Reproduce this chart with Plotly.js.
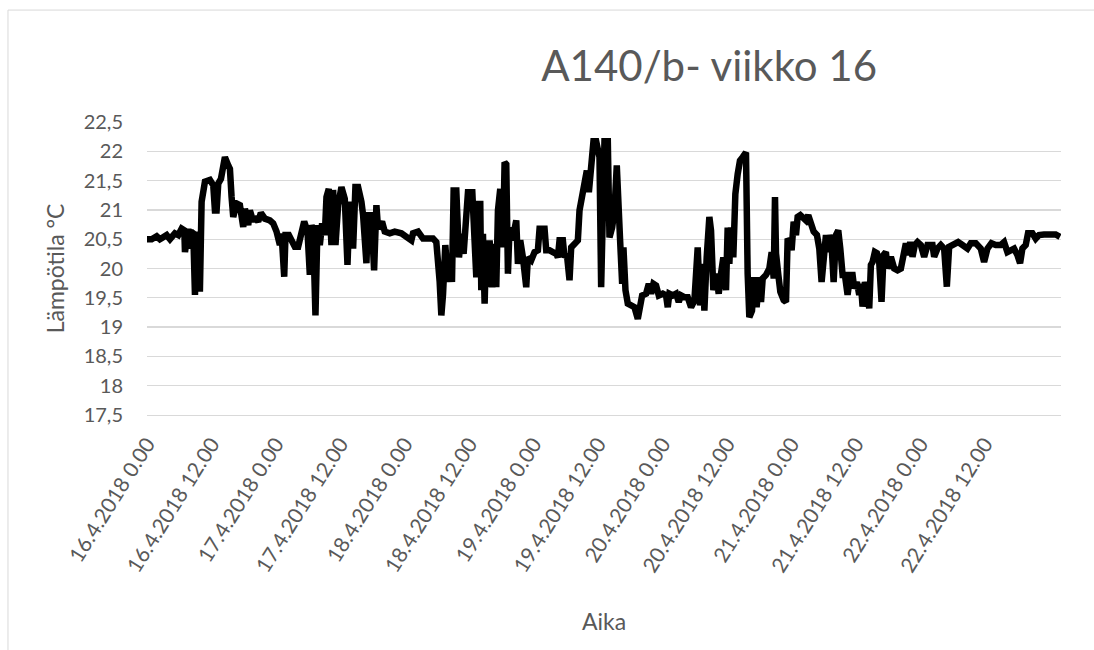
<!DOCTYPE html>
<html>
<head>
<meta charset="utf-8">
<script src="https://cdn.plot.ly/plotly-3.0.1.min.js"></script>
<style>
  html, body { margin: 0; padding: 0; background: #ffffff; }
  #chart { width: 1094px; height: 650px; }
</style>
</head>
<body>
<div id="chart"></div>
<script>
// Hours elapsed since 16.4.2018 0.00
const hours = [
  0, 0.87, 1.8, 2.4, 3.66, 4.28, 5.2, 5.83, 6.45, 6.95, 7.07, 7.38, 7.69, 7.8, 8.19, 8.62, 8.93, 9.24, 9.55, 9.86,
  10.17, 10.79, 11.72, 12.34, 12.65, 12.96, 13.27, 13.77, 14.2, 14.51, 15.13, 15.44, 15.75, 16.06, 16.68, 17.3, 17.92, 18.23, 18.85, 19.16,
  19.78, 20.09, 20.71, 21.2, 21.95, 22.88, 23.5, 24.12, 24.74, 25.05, 25.55, 25.79, 26.41, 26.91, 27.53, 28.15, 28.65, 29.27, 29.89, 30.32,
  30.63, 30.94, 31.37, 31.75, 32.18, 32.61, 33.11, 33.42, 33.85, 34.35, 34.66, 35.1, 35.59, 36.21, 36.83, 37.33, 37.76, 38.38, 38.81, 39.31,
  39.93, 40.24, 40.86, 41.17, 41.79, 42.29, 42.72, 43.03, 43.77, 44.27, 45.2, 46.13, 47.37, 49.23, 49.54, 50.47, 51.4, 53.26, 53.88, 54.19,
  54.5, 54.81, 55.12, 55.55, 56.05, 56.55, 56.79,
  57.1, 57.6, 58.1, 58.53, 58.96, 59.46, 59.77, 60.58, 61.01, 61.32, 61.63, 62.06, 62.25, 62.56, 62.87, 63.18, 63.49, 63.8, 64.3, 64.73,
  65.04, 65.35, 65.78, 66.28, 66.59, 66.9, 67.21, 67.52, 68.02, 68.45, 68.76, 69.07, 69.5, 70.0, 70.62, 70.93, 71.55, 72.17, 72.79, 73.1,
  74.03, 74.34, 74.96, 75.58, 76.2, 76.51, 76.82, 77.44, 77.75, 78.18, 78.68, 78.99, 79.61, 80.23, 80.54, 81.04, 81.47, 81.9, 82.28, 82.71,
  83.14, 83.64, 84.26, 84.57, 84.88, 85.19, 85.81, 86.12, 86.62, 87.05, 87.48, 87.86, 88.1, 88.48, 88.72, 89.1, 89.53, 90.15, 90.77, 91.39,
  91.7, 92.2, 92.94, 93.44, 93.87, 94.3, 94.8, 95.3, 96.04, 96.66, 96.97, 97.28, 97.9, 98.52, 99.02, 99.45, 100.07, 100.69, 101.31, 101.93,
  102.55, 102.98, 103.48, 103.79, 104.22, 104.72, 105.03, 105.46, 105.96, 106.46, 106.89, 107.32, 107.82, 108.13, 108.44, 108.75, 109.18, 109.56, 109.99, 110.42,
  110.92, 111.23, 111.54, 111.85, 112.16, 112.66, 113.09, 113.52, 114.02,
  114.34, 114.65, 115.27, 115.89, 116.32, 116.7, 116.94, 117.13, 117.56, 117.94, 118.56, 118.99, 119.3, 119.8, 120.04, 120.42, 120.85, 121.16, 121.66, 122.09,
  122.71, 123.14, 123.64, 124.14, 124.76, 125.19, 125.62, 126.0, 126.43, 126.74, 127.05, 127.48, 127.86, 128.29, 128.72, 129.1, 129.53, 129.96, 130.46, 130.96,
  131.39, 131.7, 132.2, 132.63, 132.94, 133.25, 133.68, 134.18, 134.49, 134.8, 135.11, 135.54, 135.92, 136.35, 136.78, 137.16, 137.59, 137.9, 138.52, 139.14,
  139.76, 140.38, 140.69, 141.31, 141.62, 142.12, 142.55, 142.98, 143.48, 144.1, 144.72, 145.34, 146.27, 146.58, 147.2, 147.82, 148.44, 148.94, 149.37, 150.3,
  151.04, 151.85, 152.78, 153.4, 154.33, 155.26, 155.88, 156.5, 157.24, 158.05, 158.98, 159.6, 160.22, 160.84, 161.46, 162.08, 162.58, 163.01, 163.63, 164.06,
  164.87, 165.49, 166.11, 167.04, 168.28, 169.21, 170.02
];

// Temperature, °C
const temps = [
  20.5, 20.5, 20.55, 20.5, 20.57, 20.5, 20.6, 20.57, 20.68, 20.65, 20.28, 20.65, 20.68, 20.34, 20.63, 20.6, 19.55, 20.63, 19.66, 19.66,
  21.14, 21.48, 21.51, 21.42, 20.99, 20.99, 21.45, 21.53, 21.7, 21.9, 21.76, 21.7, 21.22, 20.88, 21.11, 21.08, 20.71, 21.02, 20.74, 20.99,
  20.8, 20.88, 20.8, 20.95, 20.85, 20.82, 20.77, 20.63, 20.4, 20.6, 19.86, 20.57, 20.57, 20.48, 20.37, 20.37, 20.6, 20.8, 20.63, 19.89,
  20.74, 20.63, 19.2, 20.74, 20.4, 20.77, 20.57, 21.22, 21.36, 20.4, 21.34, 20.4, 21.08, 21.39, 21.19, 20.06, 21.14, 20.34, 21.39, 21.39,
  21.14, 20.91, 20.09, 20.91, 20.91, 19.97, 21.08, 20.68, 20.8, 20.63, 20.6, 20.63, 20.6, 20.48, 20.6, 20.63, 20.51, 20.51, 20.45, 19.8,
  19.77, 19.2, 19.55, 20.4, 19.77, 20.17, 19.77,
  21.33, 21.33, 20.19, 20.59, 20.25, 21.22, 21.3, 21.3, 20.65, 19.85, 21.1, 21.1, 19.63, 20.59, 19.4, 20.48, 19.68, 20.48, 19.68, 20.42,
  19.68, 20.99, 21.36, 20.36, 21.81, 21.78, 19.91, 20.7, 20.48, 20.7, 20.82, 20.08, 20.48, 20.19, 19.68, 20.19, 20.14, 20.28, 20.31, 20.68,
  20.68, 20.31, 20.31, 20.28, 20.25, 20.19, 20.48, 20.48, 20.19, 20.25, 19.8, 20.36, 20.42, 20.48, 20.99, 21.24, 21.44, 21.67, 21.3, 21.95,
  22.17, 22.17, 21.9, 19.68, 22.07, 22.17, 22.17, 20.53, 20.7, 20.99, 21.76, 21.22, 20.48, 19.74, 20.36, 19.63, 19.4, 19.37, 19.34, 19.14,
  19.26, 19.54, 19.57, 19.74, 19.57, 19.74, 19.71, 19.54, 19.57, 19.54, 19.34, 19.57, 19.54, 19.57, 19.43, 19.54, 19.51, 19.51, 19.34, 19.45,
  20.36, 19.37, 20.08, 19.28, 20.19, 20.88, 20.65, 19.63, 19.91, 19.57, 19.91, 20.19, 19.63, 20.7, 20.08, 20.7, 20.19, 21.27, 21.61, 21.84,
  21.9, 21.98, 21.98, 19.91, 19.17, 19.28, 19.85, 19.34, 19.85,
  19.43, 19.83, 19.89, 20.0, 20.28, 19.83, 21.22, 20.26, 19.89, 19.6, 19.46, 19.43, 20.51, 20.45, 20.31, 20.8, 20.57, 20.88, 20.91, 20.88,
  20.82, 20.91, 20.8, 20.63, 20.57, 20.34, 19.77, 20.34, 20.57, 20.28, 20.57, 20.4, 19.77, 20.57, 20.65, 20.34, 19.89, 19.89, 19.55, 19.89,
  19.89, 19.66, 19.77, 19.55, 19.74, 19.35, 19.77, 19.55, 19.32, 20.06, 20.11, 20.28, 20.26, 20.11, 19.43, 20.23, 20.28, 20.0, 20.2, 20.0,
  19.97, 20.0, 20.17, 20.43, 20.23, 20.45, 20.2, 20.4, 20.45, 20.4, 20.2, 20.4, 20.4, 20.2, 20.34, 20.4, 20.34, 19.69, 20.37, 20.43,
  20.45, 20.4, 20.34, 20.43, 20.43, 20.34, 20.11, 20.34, 20.43, 20.4, 20.4, 20.45, 20.28, 20.31, 20.34, 20.23, 20.09, 20.34, 20.4, 20.6,
  20.6, 20.51, 20.57, 20.58, 20.58, 20.58, 20.54
];

const xTickLabels = [
  "16.4.2018 0.00", "16.4.2018 12.00", "17.4.2018 0.00", "17.4.2018 12.00",
  "18.4.2018 0.00", "18.4.2018 12.00", "19.4.2018 0.00", "19.4.2018 12.00",
  "20.4.2018 0.00", "20.4.2018 12.00", "21.4.2018 0.00", "21.4.2018 12.00",
  "22.4.2018 0.00", "22.4.2018 12.00"
];
const xTickHours = [0, 12, 24, 36, 48, 60, 72, 84, 96, 108, 120, 132, 144, 156];

const yTickVals = [17.5, 18, 18.5, 19, 19.5, 20, 20.5, 21, 21.5, 22, 22.5];
const yTickLabels = ["17,5", "18", "18,5", "19", "19,5", "20", "20,5", "21", "21,5", "22", "22,5"];

const chartTitle = "A140/b- viikko 16";
const xTitle = "Aika";
const yTitle = "Lämpötila °C";

const FONT = "Lato, 'Open Sans', sans-serif";
const TXT = "#595959";
const GRID = "#d9d9d9";

const trace = {
  x: hours,
  y: temps,
  type: "scatter",
  mode: "lines",
  line: { color: "#000000", width: 6.5 },
  hoverinfo: "x+y",
  showlegend: false
};

const layout = {
  width: 1094,
  height: 650,
  margin: { l: 147, r: 33, t: 122, b: 235 },
  paper_bgcolor: "#ffffff",
  plot_bgcolor: "#ffffff",
  font: { family: FONT, color: TXT },
  title: {
    text: chartTitle,
    font: { family: FONT, size: 42, color: TXT },
    xref: "paper", x: 0.615, xanchor: "center",
    yref: "container", y: 0.898, yanchor: "middle"
  },
  xaxis: {
    range: [0, 170.2],
    tickmode: "array",
    tickvals: xTickHours,
    ticktext: xTickLabels,
    tickangle: -58,
    tickfont: { family: FONT, size: 21, color: TXT },
    ticks: "",
    showgrid: false,
    zeroline: false,
    showline: true,
    linecolor: GRID,
    linewidth: 1.3,
    ticklabelstandoff: 7,
    automargin: false,
    title: { text: xTitle, font: { family: FONT, size: 23, color: TXT }, standoff: 38 }
  },
  yaxis: {
    range: [17.5, 22.5],
    tickmode: "array",
    tickvals: yTickVals,
    ticktext: yTickLabels,
    tickfont: { family: FONT, size: 20, color: TXT },
    ticks: "",
    showgrid: true,
    gridcolor: GRID,
    gridwidth: 1.3,
    zeroline: false,
    showline: false,
    ticklabelstandoff: 23,
    automargin: false,
    title: { text: yTitle, font: { family: FONT, size: 23, color: TXT }, standoff: 12 }
  },
  shapes: [
    { type: "line", xref: "paper", yref: "paper", x0: -0.1521, x1: -0.1521, y0: -0.81, y1: 1.382,
      line: { color: GRID, width: 1 } },
    { type: "line", xref: "paper", yref: "paper", x0: -0.1521, x1: 1.04, y0: 1.382, y1: 1.382,
      line: { color: GRID, width: 1 } }
  ]
};

Plotly.newPlot("chart", [trace], layout, { displayModeBar: false, staticPlot: true });
</script>
</body>
</html>
